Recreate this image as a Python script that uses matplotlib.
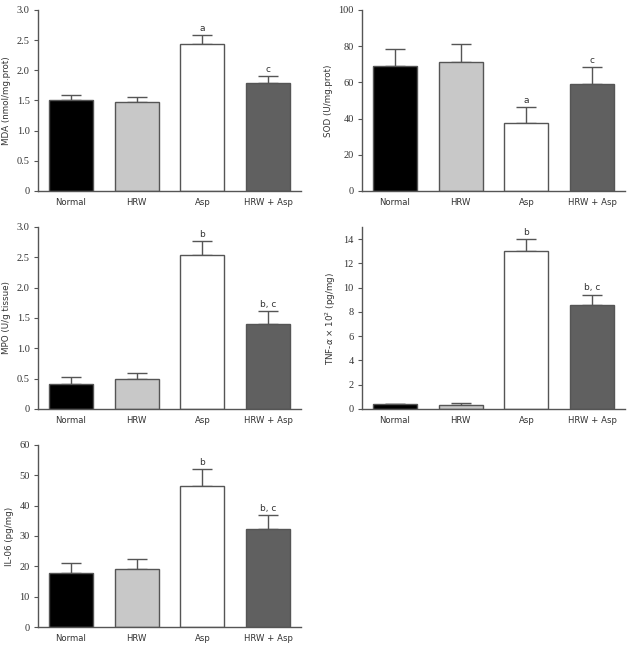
import matplotlib
matplotlib.use("Agg")
from matplotlib import pyplot as plt

groups = ["Normal", "HRW", "Asp", "HRW + Asp"]
bar_colors = ["#000000", "#c8c8c8", "#ffffff", "#606060"]

mda_mean = [1.51, 1.47, 2.43, 1.79]
mda_err = [0.08, 0.08, 0.15, 0.12]
mda_marks = ["", "", "a", "c"]

sod_mean = [68.8, 71.2, 37.6, 59.3]
sod_err = [9.7, 9.9, 8.8, 9.1]
sod_marks = ["", "", "a", "c"]

mpo_mean = [0.42, 0.50, 2.53, 1.40]
mpo_err = [0.10, 0.10, 0.24, 0.21]
mpo_marks = ["", "", "b", "b, c"]

tnf_mean = [0.41, 0.33, 13.0, 8.53]
tnf_err = [0.0, 0.14, 1.0, 0.9]
tnf_marks = ["", "", "b", "b, c"]

il6_mean = [17.9, 19.2, 46.6, 32.2]
il6_err = [3.2, 3.3, 5.4, 4.7]
il6_marks = ["", "", "b", "b, c"]

axis_grey = "#555555"
num_font = "Liberation Serif"
txt_font = "DejaVu Sans"


def draw_panel(ax, means, errs, marks, ylabel, ylim, yticks, yticklabels):
    x = range(len(groups))
    ax.bar(x, means, width=0.67, color=bar_colors, edgecolor=axis_grey,
           linewidth=1.0, zorder=2)
    # only the upper half of the error bar is visible above the bar
    ax.errorbar(x, means, yerr=[[0] * len(errs), errs], fmt="none",
                ecolor=axis_grey, elinewidth=1.0, capsize=7.5, capthick=1.0,
                zorder=1)
    span = ylim[1] - ylim[0]
    for xi, m, e, t in zip(x, means, errs, marks):
        if t:
            ax.text(xi, m + e + span * 0.012, t, ha="center", va="bottom",
                    fontsize=6.5, family=txt_font, color="#333333")

    ax.set_xlim(-0.5, 3.5)
    ax.set_ylim(*ylim)
    ax.set_yticks(yticks)
    ax.set_yticklabels(yticklabels, family=num_font, fontsize=7.5,
                       color="#333333")
    ax.set_xticks(list(x))
    ax.set_xticklabels(groups, family=txt_font, fontsize=6.1, color="#333333")
    ax.tick_params(axis="x", length=0, pad=5)
    ax.tick_params(axis="y", length=3, width=0.8, color=axis_grey, pad=3)
    ax.set_ylabel(ylabel, family=txt_font, fontsize=6.3, color="#333333",
                  labelpad=4)
    for side in ["top", "right"]:
        ax.spines[side].set_visible(False)
    for side in ["left", "bottom"]:
        ax.spines[side].set_color(axis_grey)
        ax.spines[side].set_linewidth(1.0)


fig = plt.figure(figsize=(6.3, 6.45), dpi=100)

left1, left2, w = 0.0603, 0.5746, 0.4175
ax1 = fig.add_axes([left1, 0.7039, w, 0.2806])
ax2 = fig.add_axes([left2, 0.7039, w, 0.2806])
ax3 = fig.add_axes([left1, 0.3659, w, 0.2822])
ax4 = fig.add_axes([left2, 0.3659, w, 0.2822])
ax5 = fig.add_axes([left1, 0.0279, w, 0.2822])

draw_panel(ax1, mda_mean, mda_err, mda_marks, "MDA (nmol/mg.prot)",
           (0, 3.0), [0, 0.5, 1.0, 1.5, 2.0, 2.5, 3.0],
           ["0", "0.5", "1.0", "1.5", "2.0", "2.5", "3.0"])
draw_panel(ax2, sod_mean, sod_err, sod_marks, "SOD (U/mg.prot)",
           (0, 100), [0, 20, 40, 60, 80, 100],
           ["0", "20", "40", "60", "80", "100"])
draw_panel(ax3, mpo_mean, mpo_err, mpo_marks, "MPO (U/g tissue)",
           (0, 3.0), [0, 0.5, 1.0, 1.5, 2.0, 2.5, 3.0],
           ["0", "0.5", "1.0", "1.5", "2.0", "2.5", "3.0"])
draw_panel(ax4, tnf_mean, tnf_err, tnf_marks,
           r"TNF-$\alpha$ $\times$ 10$^2$ (pg/mg)",
           (0, 15), [0, 2, 4, 6, 8, 10, 12, 14],
           ["0", "2", "4", "6", "8", "10", "12", "14"])
draw_panel(ax5, il6_mean, il6_err, il6_marks, "IL-06 (pg/mg)",
           (0, 60), [0, 10, 20, 30, 40, 50, 60],
           ["0", "10", "20", "30", "40", "50", "60"])

fig.savefig("out.png", dpi=100)
plt.close(fig)
